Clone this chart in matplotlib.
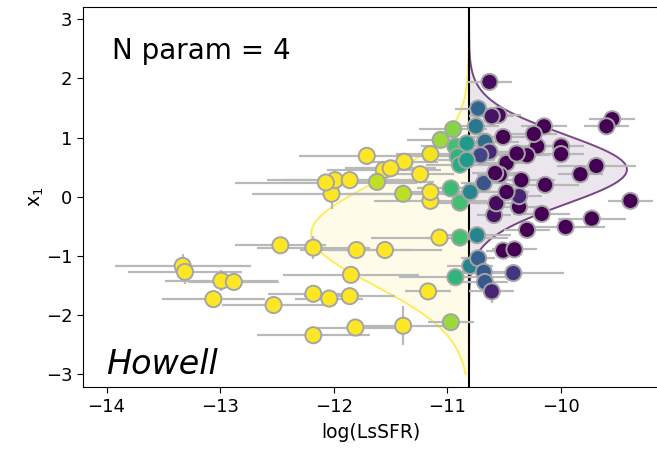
import numpy as np
import matplotlib
matplotlib.use("Agg")
import matplotlib.pyplot as plt

# ---- data ----
x_vals = [-13.33, -13.31, -12.99, -12.88, -13.06, -12.53, -12.47, -12.18, -11.80, -11.85,
          -12.18, -12.04, -11.86, -12.18, -11.81, -12.02, -11.39, -11.15, -10.89, -11.07,
          -10.89, -10.74, -11.55, -11.17, -11.39, -10.97, -10.93, -10.80, -10.73, -10.68,
          -10.67, -10.61, -10.42, -10.51, -10.41, -10.30, -10.59, -10.37, -10.17, -9.96,
          -9.73, -9.39, -10.57, -10.37, -10.63, -10.73, -10.55, -10.61, -10.75, -10.95,
          -11.06, -11.15, -10.93, -10.83, -10.67, -10.63, -10.51, -10.15, -10.00, -10.00,
          -9.55, -9.60, -9.69, -9.83, -10.21, -10.30, -10.48, -10.39, -10.71, -10.91,
          -10.89, -10.83, -10.97, -10.80, -10.68, -10.54, -10.35, -10.14, -10.48, -11.38,
          -11.56, -11.24, -11.62, -11.15, -11.50, -11.71, -11.99, -11.86, -12.07, -10.24,
          -10.58]
y_vals = [-1.17, -1.27, -1.42, -1.44, -1.73, -1.83, -0.82, -0.86, -0.90, -1.32,
          -1.64, -1.72, -1.68, -2.34, -2.21, 0.05, 0.05, -0.07, -0.10, -0.69,
          -0.69, -0.65, -0.90, -1.60, -2.18, -2.12, -1.36, -1.17, -1.04, -1.27,
          -1.44, -1.60, -1.29, -0.91, -0.89, -0.56, -0.31, -0.17, -0.29, -0.51,
          -0.37, -0.07, -0.11, 0.01, 1.94, 1.49, 1.38, 1.36, 1.19, 1.14,
          0.96, 0.72, 0.85, 0.90, 0.93, 0.76, 1.01, 1.19, 0.85, 0.72,
          1.31, 1.19, 0.52, 0.38, 0.85, 0.70, 0.57, 0.73, 0.70, 0.68,
          0.54, 0.62, 0.14, 0.08, 0.23, 0.37, 0.28, 0.20, 0.08, 0.59,
          0.45, 0.38, 0.25, 0.08, 0.48, 0.69, 0.28, 0.28, 0.24, 1.06,
          0.40]
x_errs = [0.60, 0.50, 0.50, 0.40, 0.45, 0.45, 0.40, 0.50, 0.50, 0.60,
          0.40, 0.30, 0.40, 0.50, 0.40, 0.70, 0.50, 0.50, 0.30, 0.60,
          0.30, 0.30, 0.50, 0.20, 0.40, 0.20, 0.50, 0.20, 0.15, 0.20,
          0.20, 0.20, 0.45, 0.15, 0.20, 0.20, 0.15, 0.25, 0.25, 0.35,
          0.30, 0.20, 0.20, 0.20, 0.20, 0.20, 0.20, 0.20, 0.20, 0.30,
          0.30, 0.30, 0.30, 0.25, 0.30, 0.20, 0.30, 0.20, 0.20, 0.20,
          0.20, 0.20, 0.35, 0.20, 0.20, 0.20, 0.20, 0.20, 0.20, 0.30,
          0.30, 0.25, 0.30, 0.20, 0.20, 0.20, 0.30, 0.30, 0.20, 0.30,
          0.50, 0.30, 0.50, 0.30, 0.40, 0.60, 0.60, 0.60, 0.80, 0.20,
          0.20]
y_errs = [0.20, 0.20, 0.18, 0.10, 0.10, 0.10, 0.10, 0.20, 0.15, 0.10,
          0.10, 0.10, 0.10, 0.10, 0.15, 0.25, 0.10, 0.10, 0.10, 0.10,
          0.10, 0.10, 0.10, 0.15, 0.33, 0.10, 0.10, 0.15, 0.10, 0.10,
          0.10, 0.20, 0.10, 0.10, 0.10, 0.10, 0.10, 0.10, 0.10, 0.10,
          0.10, 0.10, 0.10, 0.10, 0.15, 0.10, 0.15, 0.10, 0.10, 0.10,
          0.10, 0.10, 0.10, 0.10, 0.10, 0.10, 0.15, 0.10, 0.10, 0.10,
          0.10, 0.10, 0.10, 0.10, 0.10, 0.10, 0.10, 0.10, 0.10, 0.10,
          0.10, 0.10, 0.10, 0.10, 0.10, 0.10, 0.10, 0.10, 0.10, 0.10,
          0.10, 0.10, 0.10, 0.10, 0.10, 0.15, 0.10, 0.10, 0.10, 0.10,
          0.10]
# probability of belonging to the low-LsSFR group (1 = yellow, 0 = purple)
p_low = [1, 1, 1, 1, 1, 1, 1, 1, 1, 1,
         1, 1, 1, 1, 1, 1, 0.9, 1, 0.7, 1,
         0.7, 0.45, 1, 1, 1, 0.85, 0.65, 0.45, 0.3, 0.28,
         0.28, 0.1, 0.15, 0, 0, 0, 0.05, 0, 0, 0,
         0, 0, 0.03, 0.1, 0.03, 0.33, 0.02, 0.05, 0.4, 0.82,
         0.85, 0.98, 0.7, 0.55, 0.35, 0.1, 0, 0, 0, 0,
         0, 0, 0, 0, 0, 0, 0, 0, 0.2, 0.65,
         0.62, 0.55, 0.68, 0.45, 0.25, 0, 0, 0, 0, 1,
         1, 1, 0.9, 1, 1, 1, 1, 1, 1, 0,
         0]

# step location and the two Gaussian x1 populations
step_x = -10.81
low_mu, low_sigma = -0.63, 0.86
high_mu, high_sigma = 0.46, 0.59
curve_height = 1.39

# ---- figure ----
fig = plt.figure(figsize=(6.57, 4.5), dpi=100)
ax = fig.add_axes([0.1259, 0.1393, 0.8787, 0.8458])

cmap = plt.get_cmap("viridis")
yellow = cmap(1.0)
purple = cmap(0.0)

yy = np.linspace(-3, 3, 400)
g_low = curve_height * np.exp(-0.5 * ((yy - low_mu) / low_sigma) ** 2)
g_high = curve_height * np.exp(-0.5 * ((yy - high_mu) / high_sigma) ** 2)

ax.fill_betweenx(yy, step_x - g_low, step_x, color=yellow, alpha=0.1, lw=0, zorder=1)
ax.plot(step_x - g_low, yy, color=yellow, alpha=0.75, lw=1.4, zorder=1.5)
ax.fill_betweenx(yy, step_x, step_x + g_high, color=purple, alpha=0.1, lw=0, zorder=1)
ax.plot(step_x + g_high, yy, color=purple, alpha=0.7, lw=1.4, zorder=1.5)

ax.axvline(step_x, color="black", lw=1.5, zorder=2)

ax.errorbar(x_vals, y_vals, xerr=x_errs, yerr=y_errs, fmt="none",
            ecolor="#b9b9b9", elinewidth=1.6, capsize=0, zorder=3)
ax.scatter(x_vals, y_vals, c=p_low, cmap="viridis", vmin=0, vmax=1,
           s=135, edgecolors="#a5a5a5", linewidths=1.4, zorder=4)

ax.set_xlim(-14.21, -9.129)
ax.set_ylim(-3.22, 3.21)
ax.set_xticks([-14, -13, -12, -11, -10])
ax.set_yticks([-3, -2, -1, 0, 1, 2, 3])
ax.tick_params(labelsize=13, length=4)
ax.set_xlabel("log(LsSFR)", fontsize=13.5, labelpad=5)
ax.set_ylabel("x$_1$", fontsize=13.5, labelpad=0)

ax.text(0.050, 0.862, "N param = 4", transform=ax.transAxes, fontsize=20,
        va="baseline", ha="left")
ax.text(0.040, 0.035, "Howell", transform=ax.transAxes, fontsize=24,
        style="italic", va="baseline", ha="left")

fig.savefig("out.png", dpi=100)
